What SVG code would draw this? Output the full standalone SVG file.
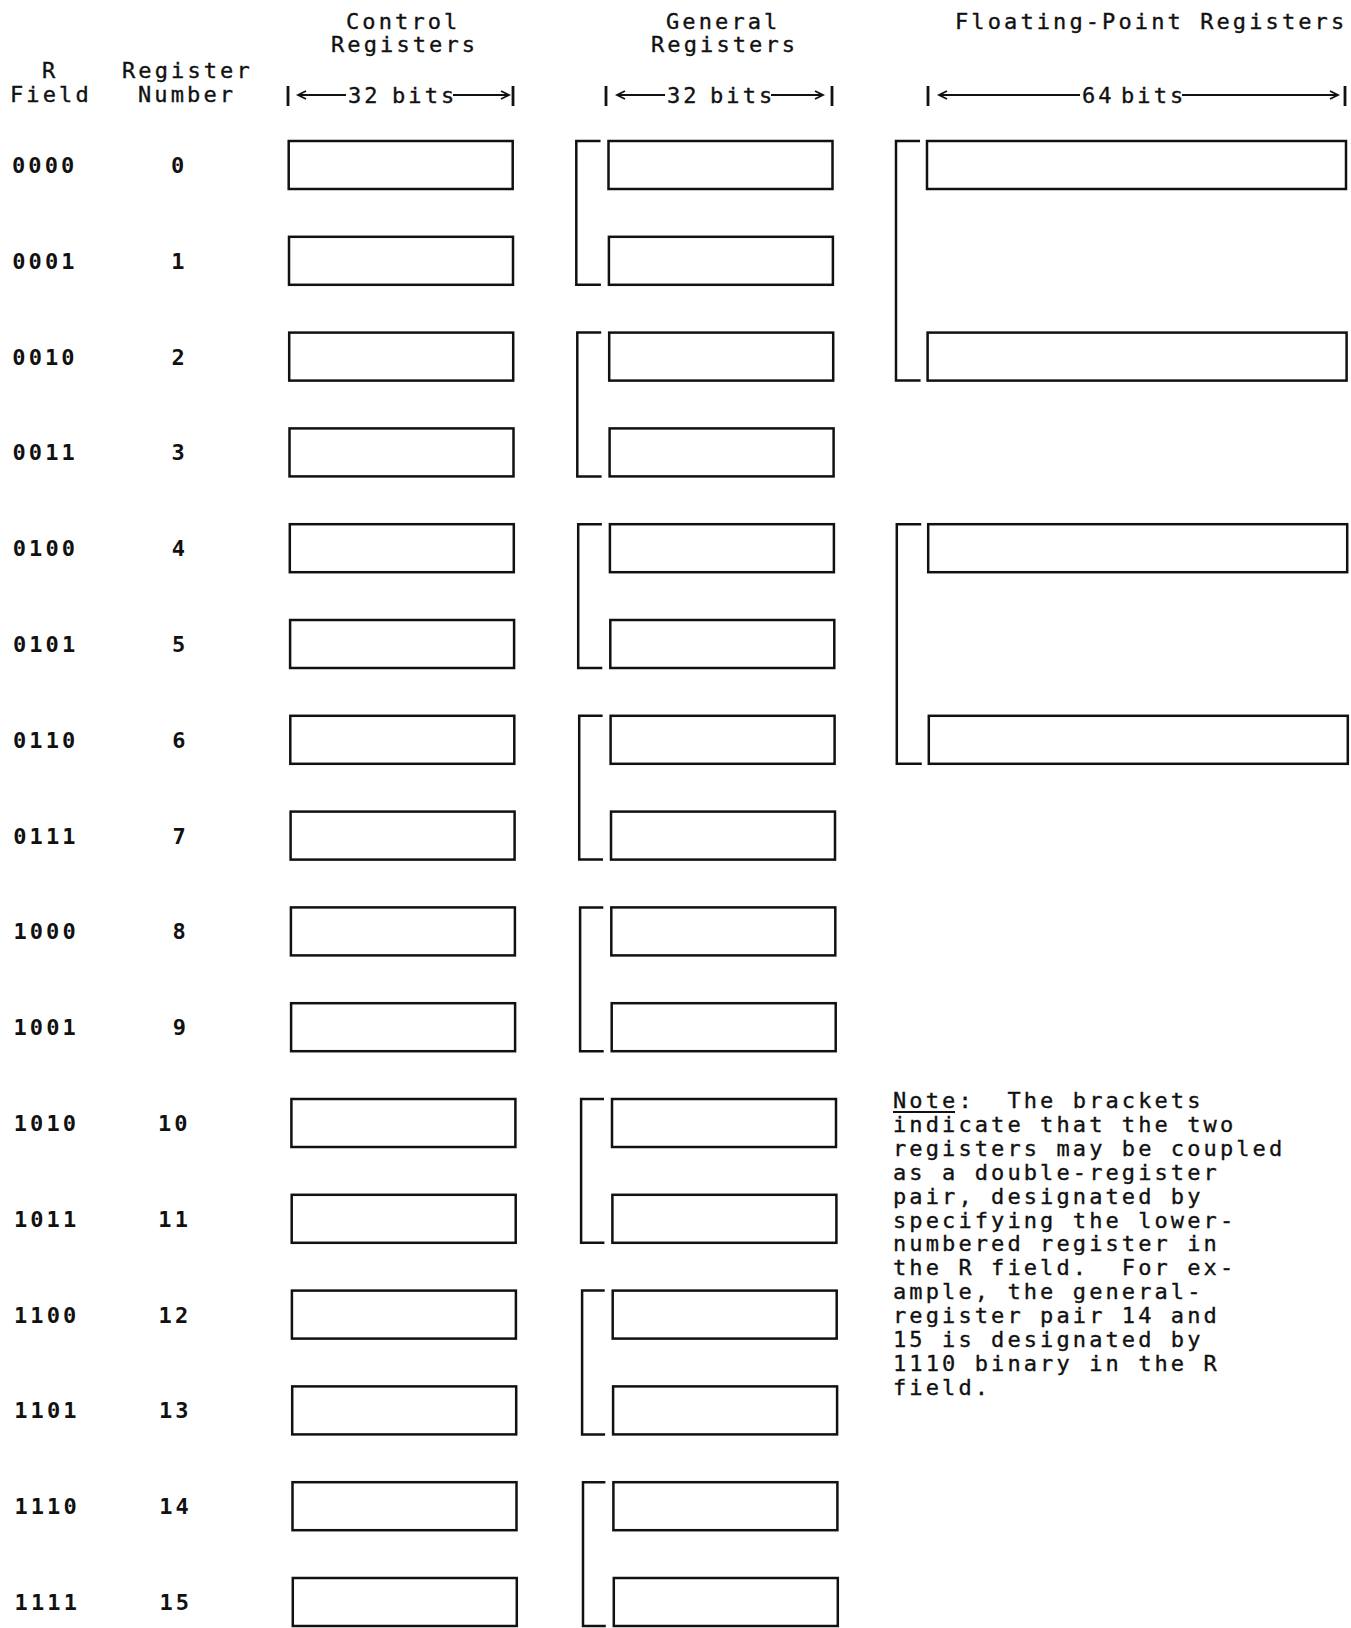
<svg xmlns="http://www.w3.org/2000/svg" width="1351" height="1628" viewBox="0 0 1351 1628">
<style>
  text { font-family: "DejaVu Sans Mono", "Liberation Mono", monospace; font-size: 22px; letter-spacing: 3.1px; fill: #111; stroke: #111; stroke-width: 0.35; white-space: pre; }
  .b { font-weight: bold; stroke-width: 0; }
  .reg { fill: #fff; stroke: #111; stroke-width: 2.5; }
  .br { fill: none; stroke: #111; stroke-width: 2.5; }
  .dim { fill: none; stroke: #111; stroke-width: 1.8; }
  .bar { stroke: #111; stroke-width: 2.8; }
</style>
<rect width="1351" height="1628" fill="#fff"/>

<g id="headers">
  <text x="346" y="29">Control</text>
  <text x="331" y="52">Registers</text>
  <text x="666" y="29">General</text>
  <text x="651" y="52">Registers</text>
  <text x="955" y="29">Floating-Point Registers</text>
  <text x="42" y="78">R</text>
  <text x="10" y="102">Field</text>
  <text x="122" y="78">Register</text>
  <text x="138" y="102">Number</text>
</g>

<g id="width-cr">
  <line class="bar" x1="288" y1="86" x2="288" y2="106"/>
  <line class="dim" x1="299" y1="95" x2="346" y2="95"/>
  <polyline class="dim" points="306,91 298,95 306,99"/>
  <text y="103"><tspan x="348">32</tspan><tspan x="392">bits</tspan></text>
  <line class="dim" x1="453" y1="95" x2="508" y2="95"/>
  <polyline class="dim" points="501,91 509,95 501,99"/>
  <line class="bar" x1="513" y1="86" x2="513" y2="106"/>
</g>
<g id="width-gr">
  <line class="bar" x1="606" y1="86" x2="606" y2="106"/>
  <line class="dim" x1="617" y1="95" x2="665" y2="95"/>
  <polyline class="dim" points="625,91 617,95 625,99"/>
  <text y="103"><tspan x="667">32</tspan><tspan x="710">bits</tspan></text>
  <line class="dim" x1="771" y1="95" x2="822" y2="95"/>
  <polyline class="dim" points="815,91 823,95 815,99"/>
  <line class="bar" x1="832" y1="86" x2="832" y2="106"/>
</g>
<g id="width-fpr">
  <line class="bar" x1="928" y1="86" x2="928" y2="106"/>
  <line class="dim" x1="939" y1="95" x2="1080" y2="95"/>
  <polyline class="dim" points="947,91 939,95 947,99"/>
  <text y="103"><tspan x="1082">64</tspan><tspan x="1121">bits</tspan></text>
  <line class="dim" x1="1182" y1="95" x2="1337" y2="95"/>
  <polyline class="dim" points="1330,91 1338,95 1330,99"/>
  <line class="bar" x1="1345" y1="86" x2="1345" y2="106"/>
</g>

<g id="row-labels">
  <g id="row0"><text class="b" x="12" y="173">0000</text><text class="b" x="171" y="173">0</text></g>
  <g id="row1"><text class="b" x="12.2" y="268.8">0001</text><text class="b" x="171.2" y="268.8">1</text></g>
  <g id="row2"><text class="b" x="12.3" y="364.6">0010</text><text class="b" x="171.4" y="364.6">2</text></g>
  <g id="row3"><text class="b" x="12.5" y="460.4">0011</text><text class="b" x="171.6" y="460.4">3</text></g>
  <g id="row4"><text class="b" x="12.7" y="556.2">0100</text><text class="b" x="171.8" y="556.2">4</text></g>
  <g id="row5"><text class="b" x="12.9" y="652">0101</text><text class="b" x="172" y="652">5</text></g>
  <g id="row6"><text class="b" x="13" y="747.8">0110</text><text class="b" x="172.2" y="747.8">6</text></g>
  <g id="row7"><text class="b" x="13.2" y="843.6">0111</text><text class="b" x="172.4" y="843.6">7</text></g>
  <g id="row8"><text class="b" x="13.4" y="939.4">1000</text><text class="b" x="172.6" y="939.4">8</text></g>
  <g id="row9"><text class="b" x="13.5" y="1035.2">1001</text><text class="b" x="172.8" y="1035.2">9</text></g>
  <g id="row10"><text class="b" x="13.7" y="1131">1010</text><text class="b" x="158" y="1131">10</text></g>
  <g id="row11"><text class="b" x="13.9" y="1226.8">1011</text><text class="b" x="158.3" y="1226.8">11</text></g>
  <g id="row12"><text class="b" x="14" y="1322.6">1100</text><text class="b" x="158.6" y="1322.6">12</text></g>
  <g id="row13"><text class="b" x="14.2" y="1418.4">1101</text><text class="b" x="158.9" y="1418.4">13</text></g>
  <g id="row14"><text class="b" x="14.4" y="1514.2">1110</text><text class="b" x="159.2" y="1514.2">14</text></g>
  <g id="row15"><text class="b" x="14.6" y="1610">1111</text><text class="b" x="159.5" y="1610">15</text></g>
</g>

<g id="control-registers">
  <g id="cr0"><rect class="reg" x="288.7" y="141" width="224" height="48"/></g>
  <g id="cr1"><rect class="reg" x="289" y="236.8" width="224" height="48"/></g>
  <g id="cr2"><rect class="reg" x="289.2" y="332.6" width="224" height="48"/></g>
  <g id="cr3"><rect class="reg" x="289.5" y="428.4" width="224" height="48"/></g>
  <g id="cr4"><rect class="reg" x="289.8" y="524.2" width="224" height="48"/></g>
  <g id="cr5"><rect class="reg" x="290.1" y="620" width="224" height="48"/></g>
  <g id="cr6"><rect class="reg" x="290.3" y="715.8" width="224" height="48"/></g>
  <g id="cr7"><rect class="reg" x="290.6" y="811.6" width="224" height="48"/></g>
  <g id="cr8"><rect class="reg" x="290.9" y="907.4" width="224" height="48"/></g>
  <g id="cr9"><rect class="reg" x="291.1" y="1003.2" width="224" height="48"/></g>
  <g id="cr10"><rect class="reg" x="291.4" y="1099" width="224" height="48"/></g>
  <g id="cr11"><rect class="reg" x="291.7" y="1194.8" width="224" height="48"/></g>
  <g id="cr12"><rect class="reg" x="291.9" y="1290.6" width="224" height="48"/></g>
  <g id="cr13"><rect class="reg" x="292.2" y="1386.4" width="224" height="48"/></g>
  <g id="cr14"><rect class="reg" x="292.5" y="1482.2" width="224" height="48"/></g>
  <g id="cr15"><rect class="reg" x="292.8" y="1578" width="224" height="48"/></g>
</g>

<g id="general-registers">
  <g id="gr0"><rect class="reg" x="608.5" y="141" width="224" height="48"/></g>
  <g id="gr1"><rect class="reg" x="608.9" y="236.8" width="224" height="48"/></g>
  <g id="gr2"><rect class="reg" x="609.2" y="332.6" width="224" height="48"/></g>
  <g id="gr3"><rect class="reg" x="609.6" y="428.4" width="224" height="48"/></g>
  <g id="gr4"><rect class="reg" x="609.9" y="524.2" width="224" height="48"/></g>
  <g id="gr5"><rect class="reg" x="610.3" y="620" width="224" height="48"/></g>
  <g id="gr6"><rect class="reg" x="610.6" y="715.8" width="224" height="48"/></g>
  <g id="gr7"><rect class="reg" x="611" y="811.6" width="224" height="48"/></g>
  <g id="gr8"><rect class="reg" x="611.3" y="907.4" width="224" height="48"/></g>
  <g id="gr9"><rect class="reg" x="611.7" y="1003.2" width="224" height="48"/></g>
  <g id="gr10"><rect class="reg" x="612" y="1099" width="224" height="48"/></g>
  <g id="gr11"><rect class="reg" x="612.4" y="1194.8" width="224" height="48"/></g>
  <g id="gr12"><rect class="reg" x="612.7" y="1290.6" width="224" height="48"/></g>
  <g id="gr13"><rect class="reg" x="613.1" y="1386.4" width="224" height="48"/></g>
  <g id="gr14"><rect class="reg" x="613.4" y="1482.2" width="224" height="48"/></g>
  <g id="gr15"><rect class="reg" x="613.8" y="1578" width="224" height="48"/></g>
</g>

<g id="floating-point-registers">
  <g id="fpr0"><rect class="reg" x="927" y="141" width="419" height="48"/></g>
  <g id="fpr2"><rect class="reg" x="927.6" y="332.6" width="419" height="48"/></g>
  <g id="fpr4"><rect class="reg" x="928.2" y="524.2" width="419" height="48"/></g>
  <g id="fpr6"><rect class="reg" x="928.8" y="715.8" width="419" height="48"/></g>
</g>

<g id="connectors">
  <path class="br" d="M600.5 141 H576.3 V284.8 H600.9"/>
  <path class="br" d="M601.2 332.6 H577.3 V476.4 H601.6"/>
  <path class="br" d="M601.9 524.2 H578.2 V668 H602.3"/>
  <path class="br" d="M602.6 715.8 H579.2 V859.6 H603"/>
  <path class="br" d="M603.3 907.4 H580.1 V1051.2 H603.7"/>
  <path class="br" d="M604 1099 H581.1 V1242.8 H604.4"/>
  <path class="br" d="M604.7 1290.6 H582.1 V1434.4 H605.1"/>
  <path class="br" d="M605.4 1482.2 H583 V1626 H605.8"/>
  <path class="br" d="M920 141 H896 V380.6 H920.6"/>
  <path class="br" d="M921.2 524.2 H896.8 V763.8 H921.8"/>
</g>

<g id="note">
  <text x="893" y="1108">Note:  The brackets</text>
  <line x1="893" y1="1112" x2="955" y2="1112" stroke="#111" stroke-width="1.8"/>
  <text x="893" y="1131.9">indicate that the two</text>
  <text x="893" y="1155.8">registers may be coupled</text>
  <text x="893" y="1179.7">as a double-register</text>
  <text x="893" y="1203.6">pair, designated by</text>
  <text x="893" y="1227.5">specifying the lower-</text>
  <text x="893" y="1251.4">numbered register in</text>
  <text x="893" y="1275.3">the R field.  For ex-</text>
  <text x="893" y="1299.2">ample, the general-</text>
  <text x="893" y="1323.1">register pair 14 and</text>
  <text x="893" y="1347">15 is designated by</text>
  <text x="893" y="1370.9">1110 binary in the R</text>
  <text x="893" y="1394.8">field.</text>
</g>
</svg>
